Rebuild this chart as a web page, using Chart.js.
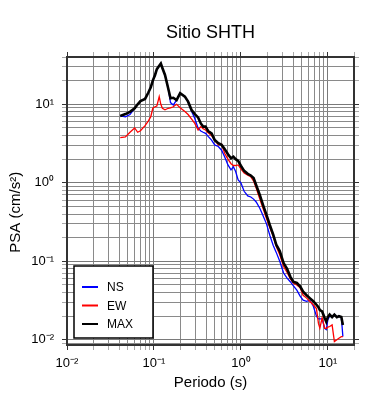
<!DOCTYPE html>
<html lang="es">
  <head>
    <meta charset="utf-8" />
    <title>Sitio SHTH</title>
    <script src="https://cdn.jsdelivr.net/npm/chart.js"></script>
    <style>
      body { margin: 0; background: #fff; }
    </style>
  </head>
  <body>
    <canvas id="psaChart" width="390" height="400"></canvas>

    <script>
      // Periods (s) and spectral accelerations (cm/s^2)
      const periods = [
        0.041, 0.047, 0.053, 0.06, 0.065, 0.07, 0.079, 0.086, 0.092, 0.097,
        0.103, 0.108, 0.115, 0.12, 0.125, 0.134, 0.146, 0.155, 0.167, 0.182,
        0.2, 0.227, 0.247, 0.27, 0.295, 0.322, 0.346, 0.368, 0.392, 0.42,
        0.46, 0.5, 0.55, 0.6, 0.65, 0.71, 0.77, 0.82, 0.87, 0.93,
        1.0, 1.09, 1.2, 1.3, 1.4, 1.5, 1.65, 1.8, 1.97, 2.15,
        2.35, 2.55, 2.8, 3.1, 3.4, 3.7, 4.0, 4.4, 4.8, 5.2,
        5.7, 6.2, 6.8, 7.4, 7.8, 8.1, 8.6, 9.2, 9.6, 10.0,
        10.5, 11.2, 11.9, 12.7, 13.4, 14.3, 14.9,
      ];
      const psaNS = [
        7.1, 6.9, 7.4, 8.9, 10.0, 11.0, 11.7, 14.0, 16.5, 20,
        23.6, 28, 31, 33, 29, 23.6, 15.9, 10.5, 9.8, 11.3,
        13.8, 12.5, 10.8, 8.2, 6.6, 4.95, 4.57, 4.4, 4.27, 3.9,
        3.5, 3.04, 2.9, 2.6, 2.15, 1.69, 1.46, 1.6, 1.39, 1.09,
        1.0, 0.78, 0.68, 0.66, 0.62, 0.57, 0.475, 0.38, 0.3, 0.215,
        0.16, 0.13, 0.1, 0.071, 0.061, 0.055, 0.049, 0.043, 0.036, 0.032,
        0.031, 0.032, 0.027, 0.02, 0.0185, 0.0185, 0.0185, 0.014, 0.0135, 0.018,
        0.02, 0.0195, 0.021, 0.0195, 0.02, 0.0195, 0.011,
      ];
      const psaEW = [
        3.76, 3.84, 4.4, 5.0, 4.4, 4.6, 5.35, 6.1, 6.95, 8.9,
        9.3, 9.5, 12.5, 10.0, 8.9, 8.5, 8.9, 9.0, 9.3, 10.0,
        9.05, 8.1, 7.4, 6.5, 5.7, 4.7, 5.2, 4.9, 4.7, 4.35,
        4.0, 3.5, 3.04, 3.1, 2.38, 2.0, 1.75, 1.66, 1.66, 1.69,
        1.5, 1.33, 1.25, 1.2, 1.05, 0.86, 0.62, 0.47, 0.35, 0.27,
        0.21, 0.155, 0.121, 0.086, 0.072, 0.06, 0.053, 0.05, 0.046, 0.037,
        0.034, 0.031, 0.028, 0.025, 0.0162, 0.0141, 0.019, 0.014, 0.014, 0.0145,
        0.0148, 0.0155, 0.0095, 0.01, 0.0105, 0.011, 0.011,
      ];
      const psaMAX = [
        7.1, 7.5, 8.0, 8.9, 10.0, 11.0, 11.7, 14.0, 16.5, 20,
        23.6, 28, 31, 33, 29, 23.6, 15.9, 11.9, 12.1, 11.3,
        13.8, 12.5, 10.8, 8.5, 7.5, 6.8, 5.7, 5.2, 5.2, 4.57,
        4.27, 3.5, 3.19, 3.04, 2.7, 2.31, 2.05, 2.15, 2.0, 1.9,
        1.65, 1.42, 1.3, 1.24, 1.15, 0.93, 0.7, 0.52, 0.39, 0.29,
        0.22, 0.163, 0.135, 0.095, 0.08, 0.064, 0.055, 0.053, 0.048, 0.041,
        0.037, 0.034, 0.031, 0.028, 0.026, 0.024, 0.023, 0.019, 0.017, 0.0195,
        0.021, 0.0195, 0.021, 0.0195, 0.02, 0.0195, 0.0155,
      ];
      const seriesNames = ["NS", "EW", "MAX"];
      const seriesColors = ["#0000ff", "#ff0000", "#000000"];

      // axis ranges and tick labels
      const xMin = 0.01, xMax = 20;
      const yMin = 0.0086, yMax = 40;
      const xDecades = [0.01, 0.1, 1, 10];
      const yDecades = [0.001, 0.01, 0.1, 1, 10];
      const decadeLabels = { "-2": "10⁻²", "-1": "10⁻¹", "0": "10⁰", "1": "10¹" };

      const FONT = "'Liberation Sans', Arial, Helvetica, sans-serif";
      Chart.defaults.font.family = FONT;
      Chart.defaults.color = "#000";

      // gridline positions: 1..9 in every decade, kept inside the range
      function gridValues(decades, min, max) {
        const out = [];
        decades.forEach((d) => {
          for (let m = 1; m <= 9; m++) {
            const v = +(m * d).toPrecision(3);
            if (v >= min * 0.999 && v <= max * 1.001) out.push(v);
          }
        });
        return out;
      }

      function isDecade(v) {
        const l = Math.log10(v);
        return Math.abs(l - Math.round(l)) < 1e-6;
      }

      function decadeLabel(v) {
        if (!isDecade(v)) return "";
        return decadeLabels[String(Math.round(Math.log10(v)))] || "";
      }

      const gridColor = (c) => (c.tick && isDecade(c.tick.value) ? "#7a7a7a" : "#8a8a8a");
      const tickColor = (c) => (c.tick && isDecade(c.tick.value) ? "#333" : "#aaa");

      function logAxis(position, min, max, decades, showLabels, title) {
        const horizontal = position === "bottom" || position === "top";
        const main = position === "bottom" || position === "left";
        return {
          type: "logarithmic",
          position: position,
          min: min,
          max: max,
          afterBuildTicks: (scale) => {
            scale.ticks = gridValues(decades, min, max).map((v) => ({ value: v }));
          },
          afterFit: (scale) => {
            if (horizontal) {
              scale.height = position === "bottom" ? 55 : 0;
              scale.paddingLeft = 0;
              scale.paddingRight = 0;
            } else {
              scale.width = position === "left" ? 67 : 0;
              scale.paddingTop = 0;
              scale.paddingBottom = 0;
            }
          },
          border: { display: true, color: "#333", width: 2 },
          grid: {
            display: true,
            drawOnChartArea: main,
            color: gridColor,
            tickColor: tickColor,
            tickLength: 5,
            lineWidth: 1,
          },
          ticks: {
            display: showLabels,
            autoSkip: false,
            maxRotation: 0,
            padding: horizontal ? 6 : 8,
            font: { size: 13 },
            color: "#000",
            callback: (v) => decadeLabel(v),
          },
          title: title || { display: false },
        };
      }

      // legend box inside the plot, lower left
      const legendBox = {
        id: "legendBox",
        afterDatasetsDraw(chart) {
          const { ctx, chartArea } = chart;
          const x = chartArea.left + 7;
          const y = chartArea.bottom - 79;
          const w = 79, h = 72;
          ctx.save();
          ctx.fillStyle = "#fff";
          ctx.fillRect(x, y, w, h);
          ctx.lineWidth = 1.5;
          ctx.strokeStyle = "#000";
          ctx.strokeRect(x, y, w, h);
          ctx.font = "12px " + FONT;
          ctx.textBaseline = "middle";
          chart.data.datasets.forEach((ds, i) => {
            const ly = y + 21 + i * 18.5;
            ctx.beginPath();
            ctx.moveTo(x + 8, ly);
            ctx.lineTo(x + 24, ly);
            ctx.strokeStyle = ds.borderColor;
            ctx.lineWidth = 2;
            ctx.stroke();
            ctx.fillStyle = "#000";
            ctx.fillText(ds.label, x + 33, ly + 1);
          });
          ctx.restore();
        },
      };

      const seriesValues = [psaNS, psaEW, psaMAX];
      const datasets = seriesNames.map((name, i) => ({
        label: name,
        data: periods.map((t, j) => ({ x: t, y: seriesValues[i][j] })),
        borderColor: seriesColors[i],
        backgroundColor: seriesColors[i],
        borderWidth: name === "MAX" ? 2.6 : 1.3,
        pointRadius: 0,
        tension: 0,
        fill: false,
        order: 2 - i,
      }));

      const ctx = document.getElementById("psaChart").getContext("2d");
      const chart = new Chart(ctx, {
        type: "line",
        data: { datasets: datasets },
        options: {
          responsive: false,
          animation: false,
          layout: { padding: { left: 0, right: 36, top: 0, bottom: 0 } },
          plugins: {
            legend: { display: false },
            tooltip: { enabled: false },
            title: {
              display: true,
              text: "Sitio SHTH",
              fullSize: false,
              color: "#000",
              font: { size: 18, weight: "normal" },
              padding: { top: 22, bottom: 13.4 },
            },
          },
          scales: {
            x: logAxis("bottom", xMin, xMax, xDecades, true, {
              display: true,
              text: "Periodo (s)",
              color: "#000",
              font: { size: 15 },
              padding: { top: 0, bottom: 8 },
            }),
            y: logAxis("left", yMin, yMax, yDecades, true, {
              display: true,
              // trailing en spaces push the visible text a little lower, like the original
              text: "PSA (cm/s²)\u2002\u2002\u2002",
              color: "#000",
              font: { size: 15 },
              padding: { top: 7, bottom: 0 },
            }),
            x2: logAxis("top", xMin, xMax, xDecades, false),
            y2: logAxis("right", yMin, yMax, yDecades, false),
          },
        },
        plugins: [legendBox],
      });
    </script>
  </body>
</html>
